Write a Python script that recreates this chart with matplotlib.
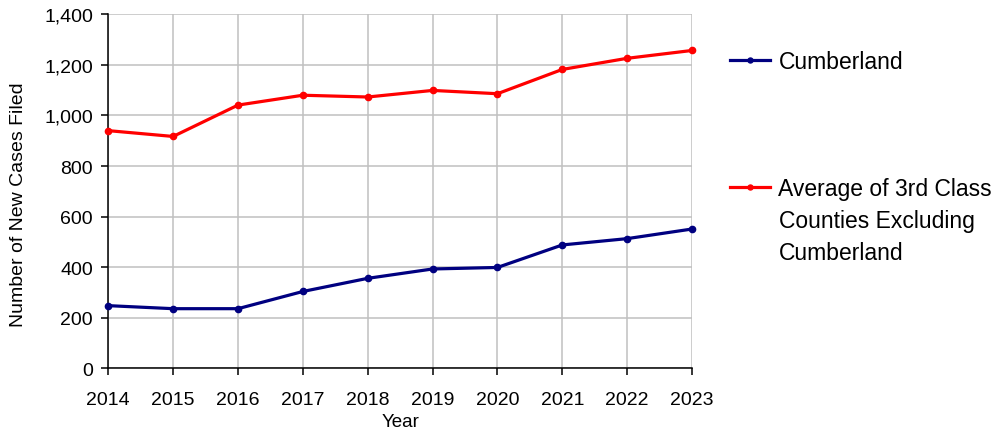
import matplotlib.pyplot as plt
from matplotlib.ticker import StrMethodFormatter

years = [2014, 2015, 2016, 2017, 2018, 2019, 2020, 2021, 2022, 2023]
cumberland = [248, 236, 236, 304, 356, 393, 399, 488, 513, 551]
third_class_avg = [940, 917, 1041, 1080, 1073, 1099, 1086, 1182, 1226, 1257]

plt.rcParams['font.family'] = ['Liberation Sans', 'DejaVu Sans']

fig = plt.figure(figsize=(9.95, 4.31), dpi=100)
ax = fig.add_axes([0.1088, 0.143, 0.5867, 0.8215])

ax.plot(years, cumberland, color='#000080', lw=2.3, marker='o', ms=4.5,
        label='Cumberland', clip_on=False, zorder=3)
ax.plot(years, third_class_avg, color='#FF0000', lw=2.3, marker='o', ms=4.5,
        label='Average of 3rd Class', clip_on=False, zorder=3)

ax.set_xlim(2014, 2023)
ax.set_ylim(0, 1400)
ax.set_xticks(years)
ax.set_yticks(range(0, 1401, 200))
ax.yaxis.set_major_formatter(StrMethodFormatter('{x:,.0f}'))

ax.grid(True, color='#c0c0c0', lw=1.1)
ax.set_axisbelow(True)
for s in ['top', 'right']:
    ax.spines[s].set_visible(False)
for s in ['left', 'bottom']:
    ax.spines[s].set_linewidth(1.1)
    ax.spines[s].set_color('black')

ax.tick_params(axis='both', direction='out', length=5, width=1.1,
               labelsize=14, colors='black')
ax.tick_params(axis='x', pad=11)
ax.tick_params(axis='y', pad=6)
ax.set_xlabel('Year', fontsize=13.5, labelpad=4)
ax.set_ylabel('Number of New Cases Filed', fontsize=14)
ax.yaxis.set_label_coords(-0.139, 0.466)

# legend: second label wraps onto two more lines, added as plain text below
leg = ax.legend(loc='upper left', bbox_to_anchor=(0.734, 0.881),
                bbox_transform=fig.transFigure, frameon=False, fontsize=16.5,
                handlelength=1.75, handletextpad=0.35, labelspacing=4.53,
                borderpad=0, borderaxespad=0, markerscale=0.8)

fig.text(0.783, 0.512, 'Counties Excluding\nCumberland', fontsize=16.5,
         va='top', ha='left', linespacing=1.5)

fig.savefig('out.png', dpi=100)
